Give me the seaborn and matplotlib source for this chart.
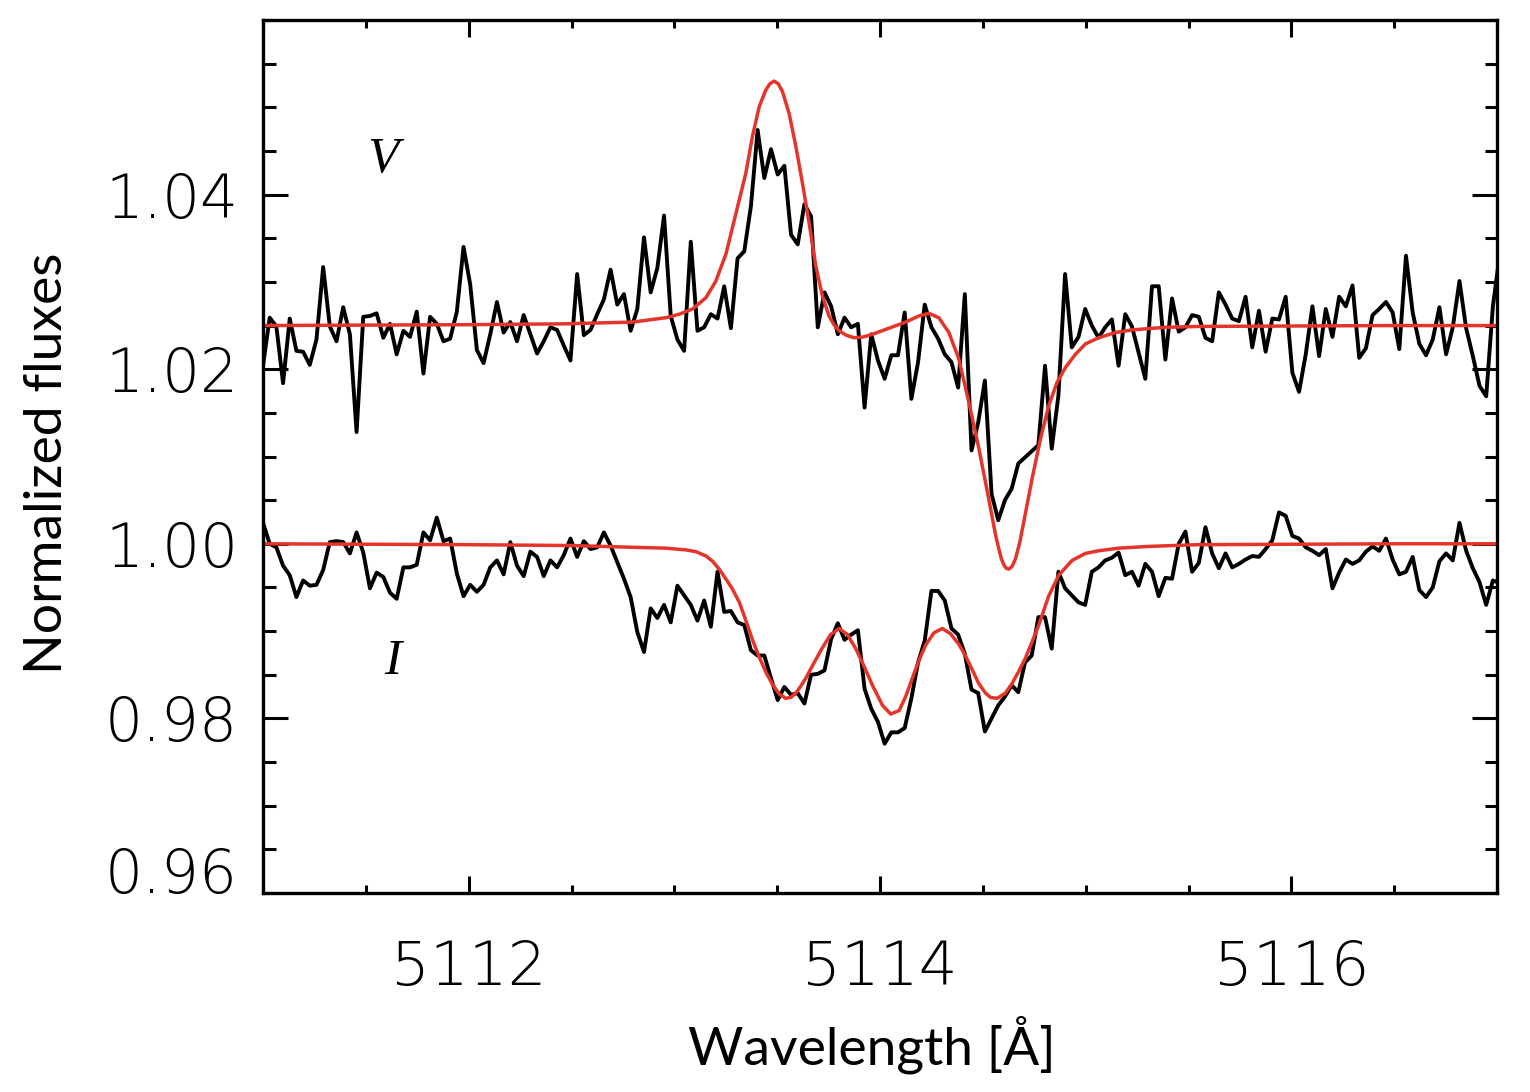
import matplotlib
matplotlib.use("Agg")
import matplotlib.pyplot as plt
from matplotlib.ticker import MultipleLocator, FixedLocator
import numpy as np
import pandas as pd
import seaborn as sns

# observed spectra, sampled every 0.0325 A from 5111.0 A
wl_start = 5111.0
wl_step = 0.0325

stokes_v = [
    1.0204, 1.0259, 1.0249, 1.0184, 1.0258, 1.0221, 1.0220, 1.0205, 1.0234, 1.0317,
    1.0249, 1.0232, 1.0271, 1.0240, 1.0128, 1.0260, 1.0261, 1.0264, 1.0236, 1.0252,
    1.0217, 1.0244, 1.0237, 1.0266, 1.0195, 1.0260, 1.0252, 1.0232, 1.0235, 1.0266,
    1.0340, 1.0297, 1.0222, 1.0207, 1.0240, 1.0277, 1.0242, 1.0254, 1.0232, 1.0262,
    1.0240, 1.0218, 1.0232, 1.0248, 1.0245, 1.0227, 1.0210, 1.0309, 1.0239, 1.0245,
    1.0263, 1.0280, 1.0314, 1.0274, 1.0286, 1.0244, 1.0269, 1.0351, 1.0288, 1.0316,
    1.0376, 1.0261, 1.0234, 1.0221, 1.0346, 1.0244, 1.0248, 1.0263, 1.0258, 1.0295,
    1.0247, 1.0327, 1.0335, 1.0387, 1.0474, 1.0419, 1.0452, 1.0423, 1.0433, 1.0354,
    1.0343, 1.0389, 1.0375, 1.0248, 1.0288, 1.0272, 1.0240, 1.0259, 1.0248, 1.0252,
    1.0156, 1.0240, 1.0210, 1.0189, 1.0216, 1.0216, 1.0265, 1.0166, 1.0208, 1.0274,
    1.0248, 1.0235, 1.0217, 1.0208, 1.0179, 1.0286, 1.0107, 1.0139, 1.0187, 1.0057,
    1.0027, 1.0050, 1.0063, 1.0092, 1.0099, 1.0106, 1.0113, 1.0204, 1.0109, 1.0170,
    1.0309, 1.0225, 1.0237, 1.0269, 1.0250, 1.0236, 1.0248, 1.0257, 1.0204, 1.0263,
    1.0249, 1.0219, 1.0189, 1.0295, 1.0295, 1.0211, 1.0281, 1.0243, 1.0248, 1.0262,
    1.0260, 1.0236, 1.0232, 1.0288, 1.0274, 1.0258, 1.0255, 1.0283, 1.0225, 1.0267,
    1.0220, 1.0258, 1.0257, 1.0283, 1.0196, 1.0174, 1.0217, 1.0272, 1.0215, 1.0269,
    1.0237, 1.0283, 1.0272, 1.0296, 1.0213, 1.0224, 1.0262, 1.0269, 1.0277, 1.0265,
    1.0223, 1.0330, 1.0265, 1.0229, 1.0216, 1.0234, 1.0271, 1.0217, 1.0248, 1.0301,
    1.0247, 1.0215, 1.0181, 1.0169, 1.0272, 1.0330,
]

stokes_i = [
    1.0024, 1.0000, 0.9996, 0.9975, 0.9964, 0.9939, 0.9958, 0.9952, 0.9953, 0.9970,
    1.0002, 1.0003, 1.0002, 0.9989, 1.0013, 0.9990, 0.9949, 0.9967, 0.9962, 0.9944,
    0.9937, 0.9973, 0.9973, 0.9976, 1.0013, 1.0004, 1.0030, 1.0003, 1.0006, 0.9966,
    0.9940, 0.9953, 0.9945, 0.9953, 0.9973, 0.9981, 0.9965, 1.0002, 0.9975, 0.9963,
    0.9991, 0.9985, 0.9963, 0.9981, 0.9973, 0.9987, 1.0006, 0.9985, 1.0003, 0.9994,
    0.9996, 1.0013, 0.9998, 0.9979, 0.9960, 0.9939, 0.9899, 0.9876, 0.9926, 0.9915,
    0.9930, 0.9910, 0.9952, 0.9941, 0.9930, 0.9912, 0.9935, 0.9905, 0.9968, 0.9922,
    0.9923, 0.9910, 0.9907, 0.9878, 0.9872, 0.9872, 0.9846, 0.9821, 0.9836, 0.9827,
    0.9829, 0.9817, 0.9850, 0.9851, 0.9855, 0.9891, 0.9909, 0.9890, 0.9896, 0.9901,
    0.9834, 0.9811, 0.9796, 0.9771, 0.9784, 0.9784, 0.9789, 0.9823, 0.9864, 0.9889,
    0.9946, 0.9946, 0.9935, 0.9903, 0.9896, 0.9874, 0.9833, 0.9829, 0.9785, 0.9800,
    0.9815, 0.9825, 0.9838, 0.9830, 0.9864, 0.9872, 0.9916, 0.9916, 0.9880, 0.9968,
    0.9949, 0.9941, 0.9933, 0.9930, 0.9968, 0.9973, 0.9981, 0.9984, 0.9990, 0.9964,
    0.9968, 0.9952, 0.9977, 0.9968, 0.9940, 0.9961, 0.9960, 1.0000, 1.0014, 0.9968,
    0.9978, 1.0019, 0.9989, 0.9972, 0.9989, 0.9973, 0.9977, 0.9982, 0.9986, 0.9985,
    0.9994, 1.0004, 1.0036, 1.0032, 1.0009, 1.0006, 0.9996, 0.9992, 0.9987, 0.9994,
    0.9949, 0.9967, 0.9982, 0.9977, 0.9981, 0.9991, 0.9997, 0.9992, 1.0006, 0.9982,
    0.9965, 0.9968, 0.9985, 0.9947, 0.9939, 0.9950, 0.9980, 0.9989, 0.9981, 1.0024,
    0.9992, 0.9972, 0.9956, 0.9930, 0.9958, 0.9955,
]

# model fits (red curves)
model_v_wl = [
    5111.00, 5112.00, 5112.474, 5112.798, 5112.960, 5113.024, 5113.089, 5113.154,
    5113.202, 5113.251, 5113.299, 5113.348, 5113.380, 5113.413, 5113.445, 5113.465,
    5113.485, 5113.505, 5113.526, 5113.558, 5113.591, 5113.623, 5113.655, 5113.688,
    5113.720, 5113.752, 5113.776, 5113.801, 5113.835, 5113.874, 5113.920, 5113.963,
    5114.044, 5114.125, 5114.189, 5114.238, 5114.286, 5114.335, 5114.383, 5114.432,
    5114.481, 5114.529, 5114.562, 5114.578, 5114.590, 5114.602, 5114.614, 5114.626,
    5114.642, 5114.659, 5114.679, 5114.699, 5114.739, 5114.780, 5114.820, 5114.861,
    5114.902, 5114.950, 5114.999, 5115.063, 5115.144, 5115.225, 5115.387, 5115.549,
    5116.50, 5117.00,
]
model_v = [
    1.0250, 1.0251, 1.0252, 1.0254, 1.0259, 1.0263, 1.0269, 1.0282,
    1.0301, 1.0332, 1.0378, 1.0425, 1.0467, 1.0501, 1.0520, 1.0527,
    1.0530, 1.0527, 1.0518, 1.0493, 1.0455, 1.0413, 1.0368, 1.0318,
    1.0284, 1.0261, 1.0251, 1.0244, 1.0239, 1.0236, 1.0237, 1.0240,
    1.0247, 1.0254, 1.0261, 1.0264, 1.0259, 1.0242, 1.0212, 1.0162,
    1.0109, 1.0051, 1.0010, 0.9994, 0.9983, 0.9976, 0.9972, 0.9971,
    0.9974, 0.9983, 1.0001, 1.0025, 1.0074, 1.0120, 1.0158, 1.0185,
    1.0202, 1.0217, 1.0229, 1.0236, 1.0242, 1.0245, 1.0248, 1.0249,
    1.0250, 1.0250,
]

model_i_wl = [
    5111.00, 5112.00, 5112.50, 5112.798, 5112.960, 5113.057, 5113.105, 5113.154,
    5113.186, 5113.218, 5113.250, 5113.283, 5113.316, 5113.348, 5113.380, 5113.413,
    5113.445, 5113.477, 5113.510, 5113.542, 5113.566, 5113.591, 5113.615, 5113.639,
    5113.680, 5113.720, 5113.760, 5113.801, 5113.842, 5113.882, 5113.922, 5113.963,
    5114.012, 5114.052, 5114.093, 5114.125, 5114.157, 5114.190, 5114.222, 5114.262,
    5114.303, 5114.343, 5114.383, 5114.415, 5114.448, 5114.480, 5114.513, 5114.537,
    5114.570, 5114.610, 5114.642, 5114.675, 5114.707, 5114.740, 5114.772, 5114.820,
    5114.869, 5114.934, 5114.999, 5115.063, 5115.160, 5115.306, 5115.549, 5116.50,
    5117.00,
]
model_i = [
    1.0000, 0.9999, 0.9998, 0.9996, 0.9995, 0.9993, 0.9991, 0.9986,
    0.9980, 0.9971, 0.9960, 0.9948, 0.9933, 0.9912, 0.9890, 0.9870,
    0.9853, 0.9839, 0.9828, 0.9823, 0.9824, 0.9829, 0.9837, 0.9846,
    0.9864, 0.9881, 0.9896, 0.9903, 0.9896, 0.9880, 0.9860, 0.9838,
    0.9815, 0.9805, 0.9809, 0.9825, 0.9846, 0.9867, 0.9884, 0.9898,
    0.9903, 0.9897, 0.9885, 0.9872, 0.9856, 0.9840, 0.9829, 0.9824,
    0.9823, 0.9829, 0.9840, 0.9854, 0.9869, 0.9888, 0.9907, 0.9940,
    0.9964, 0.9981, 0.9989, 0.9992, 0.9995, 0.9997, 0.9999, 1.0000,
    1.0000,
]

y_ticks = [0.96, 0.98, 1.00, 1.02, 1.04]
x_ticks = [5112, 5114, 5116]

wl = wl_start + wl_step * np.arange(len(stokes_v))
obs = pd.DataFrame({"wl": wl, "V": stokes_v, "I": stokes_i})
mod_v = pd.DataFrame({"wl": model_v_wl, "flux": model_v})
mod_i = pd.DataFrame({"wl": model_i_wl, "flux": model_i})

sns.set_theme(style="ticks")
plt.rcParams["font.family"] = ["DejaVu Sans"]
plt.rcParams["text.color"] = "black"
plt.rcParams["axes.labelcolor"] = "black"

red = "#E5342A"
fig = plt.figure(figsize=(15.3, 10.92), dpi=100)
ax = fig.add_axes([263 / 1530, 1 - 893 / 1092, 1234 / 1530, 873 / 1092])

sns.lineplot(data=obs, x="wl", y="V", ax=ax, color="black", lw=2.8,
             estimator=None, sort=False)
sns.lineplot(data=obs, x="wl", y="I", ax=ax, color="black", lw=2.8,
             estimator=None, sort=False)
sns.lineplot(data=mod_v, x="wl", y="flux", ax=ax, color=red, lw=2.5,
             estimator=None, sort=False)
sns.lineplot(data=mod_i, x="wl", y="flux", ax=ax, color=red, lw=2.5,
             estimator=None, sort=False)

ax.set_xlim(5111, 5117)
ax.set_ylim(0.96, 1.06)

ax.xaxis.set_major_locator(FixedLocator(x_ticks))
ax.xaxis.set_minor_locator(MultipleLocator(0.5))
ax.yaxis.set_major_locator(FixedLocator(y_ticks))
ax.yaxis.set_minor_locator(MultipleLocator(0.005))
ax.set_xticklabels([str(t) for t in x_ticks])
ax.set_yticklabels([f"{t:.2f}" for t in y_ticks])

ax.tick_params(which="both", direction="in", top=True, right=True,
               width=2.2, color="black", labelcolor="black")
ax.tick_params(axis="x", which="major", length=12.5, pad=33)
ax.tick_params(axis="x", which="minor", length=6)
ax.tick_params(axis="y", which="major", length=18, pad=18)
ax.tick_params(axis="y", which="minor", length=9)
for lab in ax.get_xticklabels():
    lab.set_family(["DejaVu Sans"])
    lab.set_fontweight(200)
    lab.set_fontsize(44)
for lab in ax.get_yticklabels():
    lab.set_family(["DejaVu Sans"])
    lab.set_fontweight(200)
    lab.set_fontsize(43)
ax.get_yticklabels()[0].set_va("baseline")

for side in ["left", "right", "top", "bottom"]:
    ax.spines[side].set_linewidth(2.4)
    ax.spines[side].set_color("black")

ax.set_xlabel("Wavelength [Å]", family=["Lato", "DejaVu Sans"], fontsize=38.5,
              va="center", color="black")
ax.set_ylabel("Normalized fluxes", family=["Lato", "DejaVu Sans"], fontsize=38.5,
              va="center", color="black")
ax.xaxis.set_label_coords(0.4935, -0.1737)
ax.yaxis.set_label_coords(-0.175, 0.492)

ax.text(5111.583, 1.0440, "V", family=["Liberation Serif", "DejaVu Serif"],
        style="italic", fontsize=37, ha="center", va="center", color="black")
ax.text(5111.631, 0.9865, "I", family=["Liberation Serif", "DejaVu Serif"],
        style="italic", fontsize=37, ha="center", va="center", color="black")

fig.savefig("out.png", dpi=100)
